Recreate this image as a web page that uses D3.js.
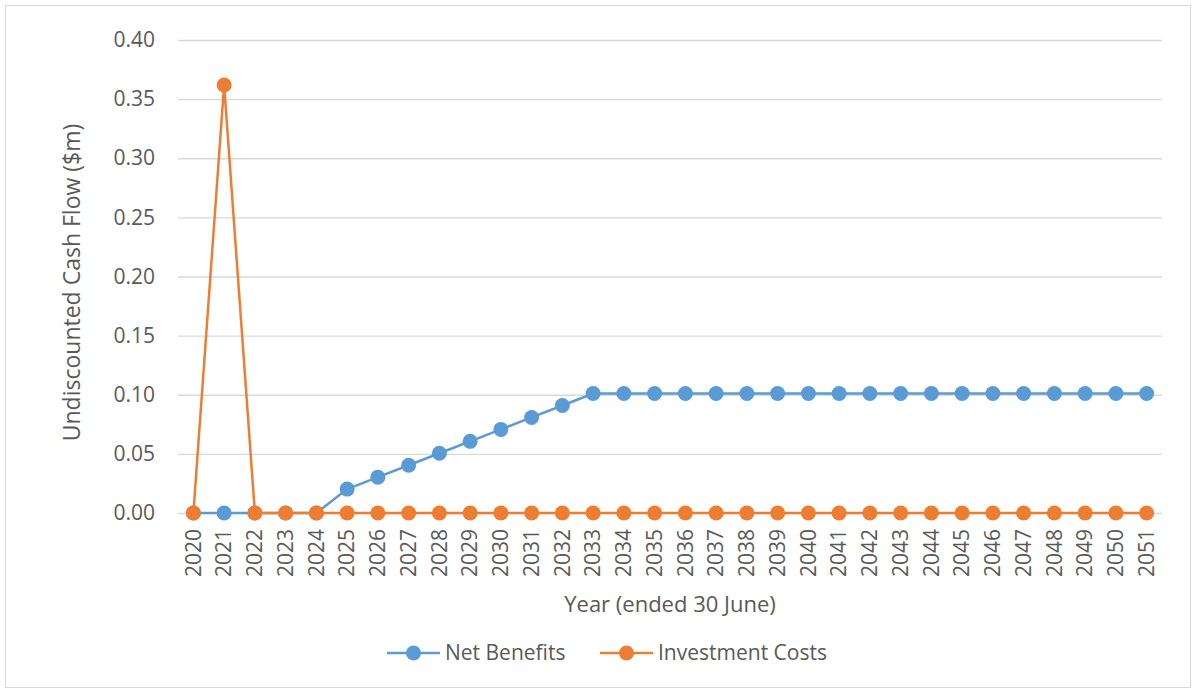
<!DOCTYPE html>
<html>
<head>
<meta charset="utf-8">
<script src="https://cdn.jsdelivr.net/npm/d3@7"></script>
<style>
  body { margin: 0; background: #fff; }
  text { font-family: "Open Sans", sans-serif; fill: #595959; }
</style>
</head>
<body>
<svg></svg>
<script>
const years = d3.range(2020, 2052).map(String);
const netBenefits = [0, 0, 0, 0, 0, 0.0202, 0.0303, 0.0404, 0.0505, 0.0606, 0.0707, 0.0808, 0.0909,
  0.101, 0.101, 0.101, 0.101, 0.101, 0.101, 0.101, 0.101, 0.101, 0.101, 0.101, 0.101,
  0.101, 0.101, 0.101, 0.101, 0.101, 0.101, 0.101];
const investmentCosts = [0, 0.362, 0, 0, 0, 0, 0, 0, 0, 0, 0, 0, 0, 0, 0, 0,
  0, 0, 0, 0, 0, 0, 0, 0, 0, 0, 0, 0, 0, 0, 0, 0];
const yTicks = [0, 0.05, 0.10, 0.15, 0.20, 0.25, 0.30, 0.35, 0.40];

const width = 1196, height = 690;
const margin = { top: 40, right: 34, bottom: 177, left: 178 };

const series = [
  { name: "Net Benefits", values: netBenefits, color: "#5B9BD5" },
  { name: "Investment Costs", values: investmentCosts, color: "#ED7D31" }
];

const svg = d3.select("svg")
    .attr("width", width)
    .attr("height", height);

svg.append("rect")
    .attr("x", 5.5).attr("y", 5.5)
    .attr("width", width - 11).attr("height", height - 8)
    .attr("fill", "#fff")
    .attr("stroke", "#D9D9D9");

const x = d3.scaleBand()
    .domain(years)
    .range([margin.left, width - margin.right]);

const y = d3.scaleLinear()
    .domain([0, 0.4])
    .range([height - margin.bottom, margin.top]);

// gridlines + y labels
const yAxis = d3.axisLeft(y)
    .tickValues(yTicks)
    .tickFormat(d3.format(".2f"))
    .tickSize(-(width - margin.left - margin.right))
    .tickPadding(23);

svg.append("g")
    .attr("transform", `translate(${margin.left},0)`)
    .call(yAxis)
    .call(g => g.select(".domain").remove())
    .call(g => g.selectAll(".tick line").attr("stroke", "#D9D9D9").attr("stroke-width", 1.3))
    .call(g => g.selectAll(".tick text").attr("font-size", 21).style("fill", "#595959"));

// x labels
const xAxis = d3.axisBottom(x).tickSize(0).tickPadding(0);
svg.append("g")
    .attr("transform", `translate(0,${height - margin.bottom})`)
    .call(xAxis)
    .call(g => g.select(".domain").remove())
    .call(g => g.selectAll(".tick text")
        .attr("font-size", 21)
        .attr("transform", "rotate(-90)")
        .attr("text-anchor", "end")
        .attr("x", -16)
        .attr("y", 0)
        .attr("dy", "0.35em")
        .style("fill", "#595959"));

const line = d3.line()
    .x((d, i) => x(years[i]) + x.bandwidth() / 2)
    .y(d => y(d));

series.forEach(s => {
  const g = svg.append("g");
  g.append("path")
      .datum(s.values)
      .attr("d", line)
      .attr("fill", "none")
      .attr("stroke", s.color)
      .attr("stroke-width", 2.5);
  g.selectAll("circle")
      .data(s.values)
      .join("circle")
      .attr("cx", (d, i) => x(years[i]) + x.bandwidth() / 2)
      .attr("cy", d => y(d))
      .attr("r", 7.5)
      .attr("fill", s.color);
});

// axis titles
svg.append("text")
    .attr("transform", `translate(80,${(margin.top + height - margin.bottom) / 2 + 6}) rotate(-90)`)
    .attr("text-anchor", "middle")
    .attr("font-size", 23)
    .text("Undiscounted Cash Flow ($m)");

svg.append("text")
    .attr("x", (margin.left + width - margin.right) / 2)
    .attr("y", 612)
    .attr("text-anchor", "middle")
    .attr("font-size", 22)
    .text("Year (ended 30 June)");

// legend
const legendX = [387, 600];
series.forEach((s, i) => {
  const lg = svg.append("g").attr("transform", `translate(${legendX[i]},653)`);
  lg.append("line").attr("x1", 0).attr("x2", 53).attr("stroke", s.color).attr("stroke-width", 2.5);
  lg.append("circle").attr("cx", 26.5).attr("r", 7.5).attr("fill", s.color);
  lg.append("text").attr("x", 58).attr("dy", "0.35em").attr("font-size", 21).text(s.name);
});
</script>
</body>
</html>
